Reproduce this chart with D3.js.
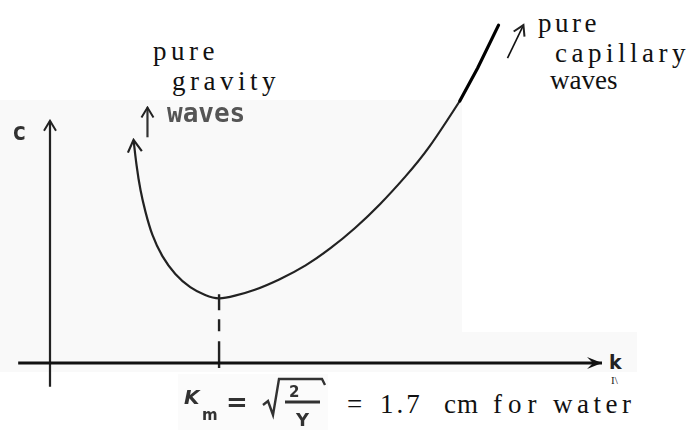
<!DOCTYPE html>
<html>
<head>
<meta charset="utf-8">
<script src="https://cdn.jsdelivr.net/npm/d3@7/dist/d3.min.js"></script>
<style>
  html, body { margin: 0; padding: 0; background: #fff; }
  svg { display: block; }
</style>
</head>
<body>
<svg id="chart" width="699" height="430"></svg>
<script>
// Phase speed c against wavenumber k: gravity branch, minimum at k_m, capillary branch.
const curveK = [0.84, 0.87, 0.91, 0.96, 1.03, 1.13, 1.26, 1.41, 1.56, 1.70, 1.86, 2.06, 2.31, 2.57, 2.82, 3.07, 3.32, 3.57, 3.82, 4.12];
const curveC = [3.38, 3.00, 2.62, 2.29, 1.94, 1.62, 1.35, 1.15, 1.03, 0.98, 1.02, 1.11, 1.27, 1.48, 1.74, 2.05, 2.41, 2.82, 3.29, 3.97];
// inked continuation of the capillary branch
const tailK = [4.12, 4.30, 4.51];
const tailC = [3.97, 4.47, 5.12];
// wavenumber of minimum phase speed
const kMin = 1.70;
const cMin = 0.98;
// axis extents in data units
const kAxis = [-0.32, 5.55];
const cAxis = [-0.36, 3.67];
// upward arrow beside the gravity label
const gravArrowK = [0.98, 0.98];
const gravArrowC = [3.42, 3.87];
// arrow pointing along the capillary branch
const capArrowK = [4.60, 4.76];
const capArrowC = [4.62, 5.12];

const gravityLabel = ["pure", "gravity"];
const capillaryLabel = ["pure", "capillary", "waves"];
const formulaTail = ["=", "1.7", "cm", "for", "water"];

const svg = d3.select("#chart");
const x = d3.scaleLinear().domain([0, 5.55]).range([50, 602]);
const y = d3.scaleLinear().domain([0, 5]).range([363, 33]);

const defs = svg.append("defs");
defs.append("filter").attr("id", "soft")
  .append("feGaussianBlur").attr("stdDeviation", 0.7);
function openHead(id, w, h, sw) {
  defs.append("marker").attr("id", id)
    .attr("viewBox", `${-w - 2} ${-h - 2} ${w + 4} ${2 * h + 4}`)
    .attr("refX", 0).attr("refY", 0)
    .attr("markerWidth", w + 4).attr("markerHeight", 2 * h + 4)
    .attr("markerUnits", "userSpaceOnUse")
    .attr("orient", "auto")
    .append("path").attr("d", `M${-w},${-h} L0,0 L${-w},${h}`)
    .attr("fill", "none").attr("stroke", "#222").attr("stroke-width", sw);
}
openHead("head", 12, 7, 2.2);
openHead("headSmall", 10, 6, 2);
defs.append("marker").attr("id", "headSolid")
  .attr("viewBox", "-16 -8 18 16").attr("refX", 0).attr("refY", 0)
  .attr("markerWidth", 18).attr("markerHeight", 16)
  .attr("markerUnits", "userSpaceOnUse").attr("orient", "auto")
  .append("path").attr("d", "M-15,-6 L0,0 L-15,6 L-9,0 Z")
  .attr("fill", "#111");

// faint tint of the scanned area
svg.append("path")
  .attr("d", "M0,100 H462 V332 H637 V372 H0 Z")
  .attr("fill", "#f9f9f9");
svg.append("rect").attr("x", 178).attr("y", 374).attr("width", 150).attr("height", 56)
  .attr("fill", "#fbfbfb");

const ink = svg.append("g").attr("filter", "url(#soft)");

// axes
ink.append("line")
  .attr("x1", x(0)).attr("x2", x(0))
  .attr("y1", y(cAxis[0])).attr("y2", y(cAxis[1]))
  .attr("stroke", "#222").attr("stroke-width", 2.2)
  .attr("marker-end", "url(#headSmall)");
svg.append("line")
  .attr("x1", x(kAxis[0])).attr("x2", x(kAxis[1]))
  .attr("y1", y(0)).attr("y2", y(0))
  .attr("stroke", "#111").attr("stroke-width", 3)
  .attr("marker-end", "url(#headSolid)");

// dashed drop line from the minimum
ink.append("line")
  .attr("x1", x(kMin)).attr("x2", x(kMin))
  .attr("y1", y(cMin) - 4).attr("y2", y(0) + 5)
  .attr("stroke", "#222").attr("stroke-width", 2.4)
  .attr("stroke-dasharray", "16 9 12 10 40");

// dispersion curve, drawn from the capillary end so the arrowhead sits on the gravity end
const pts = d3.zip(curveK, curveC).reverse();
const line = d3.line().x(d => x(d[0])).y(d => y(d[1])).curve(d3.curveNatural);
ink.append("path")
  .attr("d", line(pts))
  .attr("fill", "none").attr("stroke", "#222").attr("stroke-width", 2.2)
  .attr("marker-end", "url(#head)");
svg.append("path")
  .attr("d", d3.line().x(d => x(d[0])).y(d => y(d[1]))(d3.zip(tailK, tailC)))
  .attr("fill", "none").attr("stroke", "#000").attr("stroke-width", 3.2)
  .attr("stroke-linecap", "round");

// small label arrows
ink.append("line")
  .attr("x1", x(gravArrowK[0])).attr("y1", y(gravArrowC[0]))
  .attr("x2", x(gravArrowK[1])).attr("y2", y(gravArrowC[1]))
  .attr("stroke", "#333").attr("stroke-width", 2.2)
  .attr("marker-end", "url(#headSmall)");
svg.append("line")
  .attr("x1", x(capArrowK[0])).attr("y1", y(capArrowC[0]))
  .attr("x2", x(capArrowK[1])).attr("y2", y(capArrowC[1]))
  .attr("stroke", "#111").attr("stroke-width", 1.6)
  .attr("marker-end", "url(#headSmall)");

// axis letters
ink.append("text").attr("x", 12).attr("y", 140)
  .attr("font-family", "DejaVu Sans Mono").attr("font-weight", "bold")
  .attr("font-size", 24).attr("fill", "#333").text("c");
svg.append("text").attr("x", 609).attr("y", 369)
  .attr("font-family", "DejaVu Sans").attr("font-weight", "bold")
  .attr("font-size", 19).attr("fill", "#222").text("k");
svg.append("text").attr("x", 611).attr("y", 384)
  .attr("font-family", "Liberation Serif")
  .attr("font-size", 11).attr("fill", "#222").text("I\\");

// branch labels
const serif = { "font-family": "Liberation Serif", "font-size": 27, "fill": "#111" };
function put(t, attrs) { for (const k in attrs) t.attr(k, attrs[k]); return t; }
put(svg.append("text").attr("x", 153).attr("y", 60).attr("letter-spacing", 4.5), serif).text(gravityLabel[0]);
put(svg.append("text").attr("x", 172).attr("y", 90).attr("letter-spacing", 4.5), serif).text(gravityLabel[1]);
ink.append("text").attr("x", 167).attr("y", 122)
  .attr("font-family", "DejaVu Sans Mono").attr("font-weight", "bold")
  .attr("font-size", 26).attr("fill", "#555").text("waves");

put(svg.append("text").attr("x", 538).attr("y", 32).attr("letter-spacing", 3.5), serif).text(capillaryLabel[0]);
put(svg.append("text").attr("x", 555).attr("y", 62).attr("letter-spacing", 4.5), serif).text(capillaryLabel[1]);
put(svg.append("text").attr("x", 550).attr("y", 89), serif).text(capillaryLabel[2]);

// k_m expression
const fx = svg.append("g").attr("filter", "url(#soft)").attr("fill", "#333")
  .attr("font-family", "DejaVu Sans").attr("font-weight", "bold");
fx.append("text").attr("x", 184).attr("y", 404).attr("font-size", 20).attr("font-style", "italic").text("K");
fx.append("text").attr("x", 202).attr("y", 420).attr("font-size", 15).text("m");
fx.append("text").attr("x", 226).attr("y", 411).attr("font-size", 26).text("=");
fx.append("path").attr("d", "M263,405 L268,401 L273,415 L279,379 L322,379 L325,385")
  .attr("fill", "none").attr("stroke", "#333").attr("stroke-width", 2.4);
fx.append("text").attr("x", 289).attr("y", 397).attr("font-size", 15).text("2");
fx.append("line").attr("x1", 285).attr("x2", 320).attr("y1", 402).attr("y2", 402)
  .attr("stroke", "#333").attr("stroke-width", 3);
fx.append("text").attr("x", 296).attr("y", 426).attr("font-size", 18).text("Y");

const tailX = [347, 380, 444, 493, 553];
const tailSpacing = [0, 3, 1, 6, 4.5];
formulaTail.forEach((s, i) => {
  put(svg.append("text").attr("x", tailX[i]).attr("y", 413).attr("letter-spacing", tailSpacing[i]), serif).text(s);
});
</script>
</body>
</html>
